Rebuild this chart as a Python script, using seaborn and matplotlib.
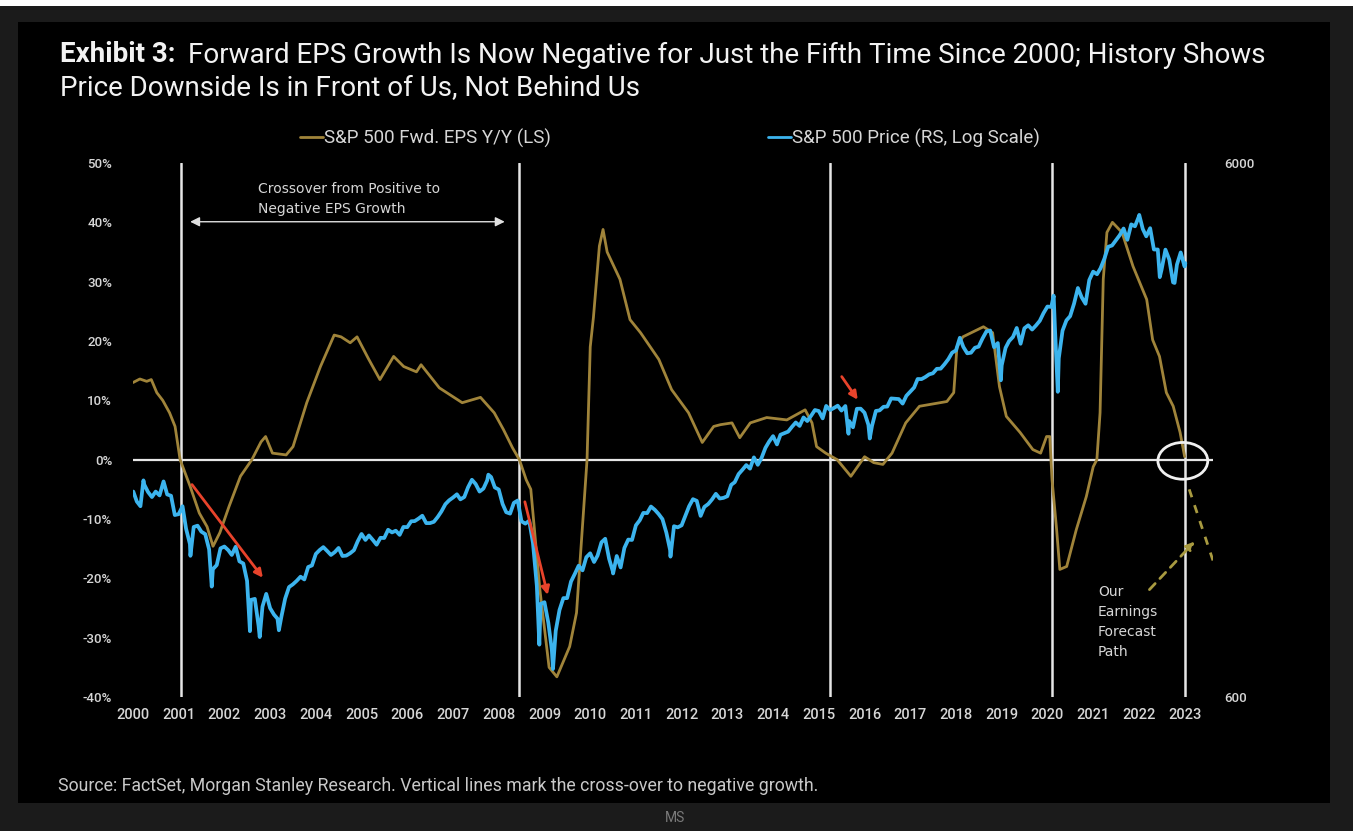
import numpy as np
import pandas as pd
import matplotlib
matplotlib.use("Agg")
import matplotlib.pyplot as plt
from matplotlib.patches import Ellipse, Rectangle
from matplotlib.lines import Line2D
from matplotlib.ticker import NullLocator
import seaborn as sns

# ---------------------------------------------------------------- data
# S&P 500 forward EPS growth, y/y % (decimal year, value)
eps_years = [
    2000.00, 2000.15, 2000.30, 2000.40, 2000.52, 2000.65, 2000.80, 2000.92,
    2001.03, 2001.25, 2001.45, 2001.62, 2001.75, 2001.90, 2002.10, 2002.35,
    2002.60, 2002.80, 2002.90, 2003.05, 2003.35, 2003.50, 2003.80, 2004.10,
    2004.40, 2004.55, 2004.75, 2004.90, 2005.15, 2005.40, 2005.70, 2005.92,
    2006.20, 2006.30, 2006.70, 2007.20, 2007.60, 2007.90, 2008.10, 2008.30,
    2008.45, 2008.60, 2008.70, 2008.90, 2009.10, 2009.27, 2009.55, 2009.70,
    2009.85, 2009.93, 2010.00, 2010.07, 2010.20, 2010.28, 2010.37, 2010.65,
    2010.87, 2011.10, 2011.50, 2011.78, 2012.15, 2012.45, 2012.70, 2012.85,
    2013.10, 2013.27, 2013.50, 2013.86, 2014.30, 2014.70, 2014.85, 2014.95,
    2015.15, 2015.40, 2015.70, 2016.00, 2016.20, 2016.40, 2016.60, 2016.90,
    2017.20, 2017.80, 2017.95, 2018.02, 2018.15, 2018.60, 2018.80, 2018.95,
    2019.10, 2019.40, 2019.68, 2019.85, 2019.98, 2020.05, 2020.10, 2020.20,
    2020.27, 2020.42, 2020.63, 2020.85, 2021.00, 2021.08, 2021.15, 2021.22,
    2021.30, 2021.42, 2021.63, 2021.87, 2022.02, 2022.17, 2022.30, 2022.45,
    2022.60, 2022.75, 2022.90, 2023.00,
]
eps_growth = [
    13.0, 13.6, 13.2, 13.5, 11.3, 10.0, 7.9, 5.6,
    0.0, -4.5, -9.0, -11.3, -14.6, -12.3, -7.9, -2.8,
    0.0, 3.0, 3.9, 1.1, 0.8, 2.2, 9.6, 15.7,
    21.0, 20.7, 19.7, 20.7, 17.0, 13.5, 17.4, 15.7,
    14.8, 16.0, 12.1, 9.6, 10.5, 7.9, 5.1, 2.0,
    0.0, -3.4, -5.0, -22.0, -35.0, -36.6, -31.5, -25.8,
    -9.0, 0.0, 19.0, 24.0, 36.0, 38.8, 35.0, 30.4,
    23.6, 21.4, 16.9, 11.8, 7.9, 2.9, 5.6, 5.9,
    6.2, 3.7, 6.2, 7.1, 6.7, 8.4, 6.2, 2.2,
    1.1, 0.0, -2.8, 0.5, -0.5, -0.8, 1.1, 6.2,
    9.0, 9.8, 11.3, 19.0, 20.7, 22.4, 21.4, 12.3,
    7.3, 4.6, 1.7, 1.1, 3.9, 3.9, -3.4, -11.8,
    -18.5, -18.0, -11.8, -6.2, -1.2, 0.0, 7.9, 30.4,
    38.3, 40.0, 38.3, 32.6, 29.8, 27.0, 20.2, 17.4,
    11.3, 9.0, 4.6, 0.5,
]

# S&P 500 month-end closes, Jan 2000 .. Dec 2022
spx_month_end = [
    1394, 1366, 1499, 1452, 1421, 1455, 1431, 1518, 1437, 1429, 1315, 1320,
    1366, 1240, 1160, 1249, 1256, 1224, 1211, 1134, 1041, 1060, 1139, 1148,
    1130, 1107, 1147, 1077, 1067, 990, 912, 916, 815, 886, 936, 880,
    856, 841, 848, 917, 964, 975, 990, 1008, 996, 1051, 1058, 1112,
    1131, 1145, 1126, 1107, 1121, 1141, 1102, 1104, 1115, 1130, 1174, 1212,
    1181, 1204, 1181, 1157, 1192, 1191, 1234, 1220, 1229, 1207, 1249, 1248,
    1280, 1281, 1295, 1311, 1270, 1270, 1277, 1304, 1336, 1378, 1401, 1418,
    1438, 1407, 1421, 1482, 1531, 1503, 1455, 1474, 1527, 1549, 1481, 1468,
    1379, 1331, 1323, 1386, 1400, 1280, 1267, 1283, 1166, 969, 896, 903,
    826, 735, 798, 873, 919, 919, 987, 1021, 1057, 1036, 1096, 1115,
    1074, 1104, 1169, 1187, 1089, 1031, 1102, 1049, 1141, 1183, 1181, 1258,
    1286, 1327, 1326, 1364, 1345, 1321, 1292, 1219, 1131, 1253, 1247, 1258,
    1312, 1366, 1408, 1398, 1310, 1362, 1379, 1407, 1441, 1412, 1416, 1426,
    1498, 1515, 1569, 1598, 1631, 1606, 1686, 1633, 1682, 1757, 1806, 1848,
    1783, 1859, 1872, 1884, 1924, 1960, 1931, 2003, 1972, 2018, 2068, 2059,
    1995, 2105, 2068, 2086, 2107, 2063, 2104, 1972, 1920, 2079, 2080, 2044,
    1940, 1932, 2060, 2065, 2097, 2099, 2174, 2171, 2168, 2126, 2199, 2239,
    2279, 2364, 2363, 2384, 2412, 2423, 2470, 2472, 2519, 2575, 2648, 2674,
    2824, 2714, 2641, 2648, 2705, 2718, 2816, 2902, 2914, 2712, 2760, 2507,
    2704, 2784, 2834, 2946, 2752, 2942, 2980, 2926, 2977, 3038, 3141, 3231,
    3226, 2954, 2585, 2912, 3044, 3100, 3271, 3500, 3363, 3270, 3622, 3756,
    3714, 3811, 3973, 4181, 4204, 4298, 4395, 4523, 4308, 4605, 4567, 4766,
    4516, 4374, 4530, 4132, 4132, 3785, 4130, 3955, 3586, 3872, 4080, 3840,
]
# intra-month turning points
spx_extra_dates = [
    "2000-01-03", "2000-03-24", "2000-09-01", "2001-04-04", "2001-09-21",
    "2002-07-23", "2002-10-09", "2003-03-11", "2007-10-09", "2008-11-20",
    "2009-03-09", "2010-07-02", "2011-10-03", "2015-08-25", "2016-02-11",
    "2018-12-24", "2020-02-19", "2020-03-23", "2022-01-03", "2022-06-16",
    "2022-10-12", "2023-01-06",
]
spx_extra_values = [
    1455, 1527, 1520, 1103, 966,
    797, 777, 800, 1565, 752,
    677, 1022, 1099, 1867, 1829,
    2351, 3386, 2237, 4797, 3667,
    3577, 3895,
]

# forecast path beyond the last observation
forecast_years = [2023.10, 2023.62]
forecast_growth = [-5.0, -17.0]

year_ticks = list(range(2000, 2024))
pct_ticks = [-40, -30, -20, -10, 0, 10, 20, 30, 40, 50]
price_ticks = [600, 6000]
crossover_years = [2001.05, 2008.44, 2015.24, 2020.09, 2023.0]

title_bold = "Exhibit 3:"
title_rest = "Forward EPS Growth Is Now Negative for Just the Fifth Time Since 2000; History Shows"
title_line2 = "Price Downside Is in Front of Us, Not Behind Us"
legend_eps = "S&P 500 Fwd. EPS Y/Y (LS)"
legend_px = "S&P 500 Price (RS, Log Scale)"
source_text = "Source: FactSet, Morgan Stanley Research. Vertical lines mark the cross-over to negative growth."

GOLD = "#a0843a"
BLUE = "#3cb4ee"
RED = "#e8432b"
TXT = "#d6d6d6"


def decimal_year(ts):
    ts = pd.Timestamp(ts)
    n = 366 if ts.is_leap_year else 365
    return ts.year + (ts.dayofyear - 0.5) / n


eps_df = pd.DataFrame({"year": eps_years, "growth": eps_growth})

month_dates = pd.date_range("2000-01-31", periods=len(spx_month_end), freq="ME")
px_df = pd.concat([
    pd.DataFrame({"date": month_dates, "price": spx_month_end}),
    pd.DataFrame({"date": pd.to_datetime(spx_extra_dates), "price": spx_extra_values}),
]).sort_values("date")
px_df["year"] = px_df["date"].map(decimal_year)

# ---------------------------------------------------------------- style
sns.set_theme(style="dark")
plt.rcParams["font.family"] = ["Roboto", "DejaVu Sans"]

W, H = 1353, 831
fig = plt.figure(figsize=(W / 100, H / 100), dpi=100, facecolor="#1b1b1b")
fig.patches.append(Rectangle((18 / W, 1 - 803 / H), (1330 - 18) / W, (803 - 22) / H,
                             transform=fig.transFigure, facecolor="black",
                             edgecolor="none", zorder=-10))
fig.patches.append(Rectangle((0, 1 - 6 / H), 1, 6 / H, transform=fig.transFigure,
                             facecolor="white", edgecolor="none", zorder=-10))

ax = fig.add_axes([133 / W, 1 - 697 / H, (1213 - 133) / W, (697 - 163) / H])
ax.set_facecolor("black")
ax2 = ax.twinx()
ax2.patch.set_visible(False)

# ---------------------------------------------------------------- lines
sns.lineplot(data=eps_df, x="year", y="growth", ax=ax, color=GOLD, lw=2.0,
             estimator=None, sort=False, zorder=3)
sns.lineplot(data=px_df, x="year", y="price", ax=ax2, color=BLUE, lw=2.7,
             estimator=None, sort=False, zorder=3)

ax.set_xlim(2000, 2023.62)
ax.set_ylim(-40, 50)
ax2.set_yscale("log")
ax2.set_ylim(600, 6000)

ax.axhline(0, color="#e6e6e6", lw=1.6, zorder=2)
for xv in crossover_years:
    ax.axvline(xv, color="#e6e6e6", lw=1.8, zorder=2)

# ---------------------------------------------------------------- axes
for a in (ax, ax2):
    for s in a.spines.values():
        s.set_visible(False)
    a.grid(False)
    a.set_xlabel("")
    a.set_ylabel("")

ax.set_xticks(year_ticks)
ax.set_xticklabels([str(y) for y in year_ticks], fontweight="medium")
ax.set_yticks(pct_ticks)
ax.set_yticklabels([f"{v}%" for v in pct_ticks], fontweight="medium")
ax2.set_yticks(price_ticks)
ax2.set_yticklabels([str(v) for v in price_ticks], fontweight="medium")
ax2.yaxis.set_minor_locator(NullLocator())

ax.tick_params(axis="x", length=0, pad=8, colors=TXT, labelsize=10.5)
ax.tick_params(axis="y", length=0, pad=15, colors=TXT, labelsize=9.5)
ax2.tick_params(axis="y", length=0, pad=8, colors=TXT, labelsize=9.5)

# ---------------------------------------------------------------- annotations
ax.annotate("", xy=(2008.13, 40.1), xytext=(2001.25, 40.1),
            arrowprops=dict(arrowstyle="<|-|>", color="#e0e0e0", lw=1.0,
                            mutation_scale=14, shrinkA=0, shrinkB=0))
ax.text(2002.73, 43.9, "Crossover from Positive to\nNegative EPS Growth",
        color=TXT, fontsize=10, family="DejaVu Sans", ha="left", va="center",
        linespacing=1.55)

red_arrows = [((2001.29, -4.2), (2002.84, -19.9)),
              ((2008.57, -7.1), (2009.07, -22.8)),
              ((2015.50, 14.0), (2015.85, 10.1))]
for start, end in red_arrows:
    ax2.annotate("", xy=end, xytext=start, xycoords=ax.transData,
                 textcoords=ax.transData,
                 arrowprops=dict(arrowstyle="-|>", color=RED, lw=2.0,
                                 mutation_scale=12, shrinkA=0, shrinkB=0),
                 zorder=5)

ax2.add_patch(Ellipse((2022.96, -0.2), 1.09, 6.2, transform=ax.transData,
                      fill=False, edgecolor="#f0f0f0", lw=2.0, zorder=6))

ax.plot(forecast_years, forecast_growth, color="#a89a40", lw=2.0,
        ls=(0, (3, 3)), zorder=4)
ax.annotate("", xy=(2023.22, -13.8), xytext=(2022.23, -21.9),
            arrowprops=dict(arrowstyle="-|>", color="#a89a40", lw=2.0,
                            ls=(0, (3, 2.5)), mutation_scale=12,
                            shrinkA=0, shrinkB=0))
ax.text(2021.1, -27.3, "Our\nEarnings\nForecast\nPath", color=TXT, fontsize=10,
        family="DejaVu Sans", ha="left", va="center", linespacing=1.55)

# ---------------------------------------------------------------- legend
for handle_color, label, x0 in ((GOLD, legend_eps, 300), (BLUE, legend_px, 768)):
    fig.legend([Line2D([], [], color=handle_color, lw=2)], [label],
               loc="center left", bbox_to_anchor=(x0 / W, 1 - 138 / H),
               frameon=False, fontsize=13.5, handlelength=1.2,
               handletextpad=0.1, borderpad=0, borderaxespad=0,
               labelcolor=TXT)

# ---------------------------------------------------------------- titles
TITLE_SIZE = 20
renderer = fig.canvas.get_renderer()
t_bold = fig.text(60 / W, 1 - 55 / H, title_bold, color="#f2f2f2",
                  fontsize=TITLE_SIZE, fontweight="bold", va="center", ha="left")
bb = t_bold.get_window_extent(renderer=renderer)
fig.text((bb.x1 + 12) / W, 1 - 55 / H, title_rest, color="#f2f2f2",
         fontsize=TITLE_SIZE, va="center", ha="left")
fig.text(60 / W, 1 - 89 / H, title_line2, color="#f2f2f2",
         fontsize=TITLE_SIZE, va="center", ha="left")

fig.text(58 / W, 1 - 786 / H, source_text, color="#c8c8c8", fontsize=12.8,
         va="center", ha="left")
fig.text(675 / W, 1 - 818 / H, "MS", color="#7a7a7a", fontsize=10,
         va="center", ha="center")

fig.savefig("out.png", dpi=100, facecolor=fig.get_facecolor())
